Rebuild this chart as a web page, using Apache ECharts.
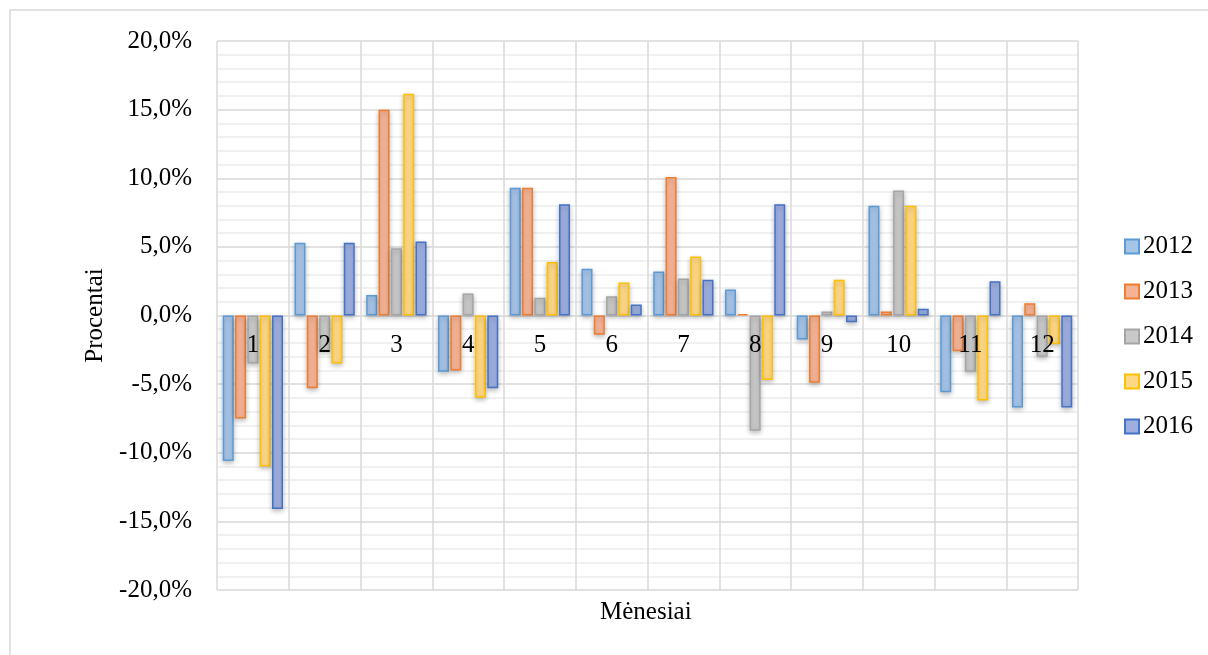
<!DOCTYPE html>
<html>
<head>
<meta charset="utf-8">
<script src="https://cdn.jsdelivr.net/npm/echarts@6/dist/echarts.min.js"></script>
<style>
html,body{margin:0;padding:0;background:#fff;}
#chart{width:1208px;height:655px;}
</style>
</head>
<body>
<div id="chart"></div>
<script>
const months = ['1','2','3','4','5','6','7','8','9','10','11','12'];
const years = ['2012','2013','2014','2015','2016'];
const y2012 = [-10.6, 5.3, 1.5, -4.1, 9.3, 3.4, 3.2, 1.9, -1.75, 8.0, -5.6, -6.7];
const y2013 = [-7.5, -5.3, 15.0, -4.0, 9.3, -1.4, 10.1, 0.1, -4.9, 0.3, -2.6, 0.9];
const y2014 = [-3.5, -2.6, 4.9, 1.6, 1.3, 1.4, 2.7, -8.4, 0.3, 9.1, -4.1, -3.0];
const y2015 = [-11.0, -3.5, 16.15, -6.0, 3.9, 2.4, 4.3, -4.7, 2.6, 8.0, -6.2, -2.1];
const y2016 = [-14.1, 5.3, 5.4, -5.3, 8.1, 0.8, 2.6, 8.1, -0.5, 0.5, 2.5, -6.7];
const yTicks = [-20, -15, -10, -5, 0, 5, 10, 15, 20];

const seriesData = [y2012, y2013, y2014, y2015, y2016];
const fills = ['#a6c4e8', '#f5b396', '#c9c9c9', '#ffd885', '#9daedf'];
const borders = ['#5b9bd5', '#ed7d31', '#a5a5a5', '#ffc000', '#4472c4'];
const FONT = '"Liberation Serif", "Times New Roman", serif';

const W = 1208, H = 655;
const GRID = {left: 217, right: 130, top: 41, bottom: 65};
const yMin = yTicks[0], yMax = yTicks[yTicks.length - 1];
// move the category axis (labels) up to the zero line, like Excel's axis crossing at 0
const plotH = H - GRID.top - GRID.bottom;
const zeroOffset = -plotH * (0 - yMin) / (yMax - yMin);

const chart = echarts.init(document.getElementById('chart'));
chart.setOption({
  animation: false,
  backgroundColor: '#ffffff',
  graphic: [
    {type: 'rect', shape: {x: 10, y: 10, width: 1220, height: 700}, style: {fill: 'none', stroke: '#d9d9d9', lineWidth: 1.5}, z: -10},
    {type: 'text', left: 600, top: 600, style: {text: 'Mėnesiai', font: '25px ' + FONT, fill: '#000'}}
  ],
  grid: Object.assign({containLabel: false}, GRID),
  legend: {
    orient: 'vertical',
    left: 1119,
    top: 229,
    itemWidth: 14,
    itemHeight: 14,
    itemGap: 20,
    icon: 'rect',
    textStyle: {fontFamily: FONT, fontSize: 25, color: '#000', padding: [0, 0, 0, -1]},
    data: years
  },
  xAxis: {
    type: 'category',
    data: months,
    z: 5,
    offset: zeroOffset,
    axisLine: {show: false, onZero: false},
    axisTick: {show: false},
    axisLabel: {fontFamily: FONT, fontSize: 25, color: '#000', margin: 17, interval: 0},
    splitLine: {show: true, interval: 0, lineStyle: {color: '#d9d9d9', width: 1.5}}
  },
  yAxis: {
    type: 'value',
    min: yMin,
    max: yMax,
    interval: 5,
    name: 'Procentai',
    nameLocation: 'middle',
    nameRotate: 90,
    nameGap: 109,
    nameTextStyle: {fontFamily: FONT, fontSize: 25, color: '#000'},
    axisLine: {show: false},
    axisTick: {show: false},
    axisLabel: {
      fontFamily: FONT, fontSize: 25, color: '#000', margin: 25,
      formatter: v => v.toFixed(1).replace('.', ',') + '%'
    },
    splitLine: {show: true, lineStyle: {color: '#d9d9d9', width: 1.5}},
    minorTick: {show: false, splitNumber: 5},
    minorSplitLine: {show: true, lineStyle: {color: '#ededed', width: 1.5}}
  },
  series: years.map((y, i) => ({
    name: y,
    type: 'bar',
    data: seriesData[i],
    barWidth: 11,
    barGap: '12%',
    itemStyle: {
      color: fills[i],
      borderColor: borders[i],
      borderWidth: 1.5,
      shadowBlur: 5,
      shadowColor: 'rgba(0,0,0,0.25)',
      shadowOffsetY: 2
    }
  }))
});
</script>
</body>
</html>
